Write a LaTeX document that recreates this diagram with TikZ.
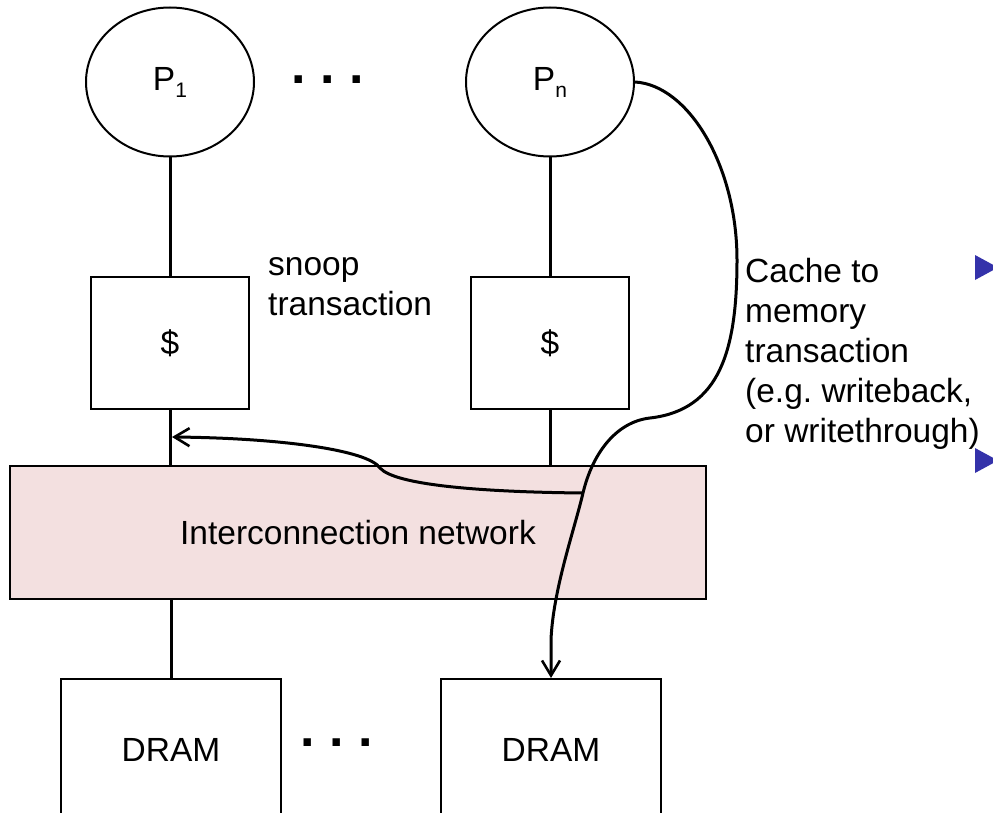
\documentclass[tikz,border=0pt]{standalone}
\usepackage{fontspec}
\setmainfont{Liberation Sans}
\usetikzlibrary{shapes.geometric,arrows.meta}

\definecolor{netpink}{RGB}{243,224,224}
\definecolor{bulletblue}{RGB}{52,50,170}

\newcommand{\labelsize}{\fontsize{33.5}{40}\selectfont}
\newcommand{\subsize}{\fontsize{21}{21}\selectfont}
\newcommand{\dotsize}{\fontsize{52}{52}\selectfont\bfseries}

\tikzset{
  proc/.style={draw, line width=2pt, ellipse, minimum width=168pt, minimum height=149pt, inner sep=0pt},
  cachebox/.style={draw, line width=2pt, minimum width=158pt, minimum height=132pt, inner sep=0pt},
  membox/.style={draw, line width=2pt, minimum width=220pt, minimum height=142pt, inner sep=0pt},
  wire/.style={line width=3pt},
  txn/.style={line width=3pt, -{Straight Barb[length=15pt,width=18pt,line width=2.6pt]}},
  note/.style={align=left, anchor=base west, inner sep=0pt}
}

\begin{document}
\frenchspacing
\begin{tikzpicture}[x=1pt, y=-1pt, font=\labelsize]
  \useasboundingbox (0,0) rectangle (993,813);

  % processors
  \node[proc] (p1) at (170,82) {P\raisebox{-7pt}{\subsize 1}};
  \node[proc] (pn) at (550,82) {P\raisebox{-7pt}{\subsize n}};
  \node (topdots) at (328,80) {\dotsize . . .};

  % caches
  \node[cachebox] (c1) at (170,343) {\$};
  \node[cachebox] (cn) at (550,343) {\$};

  % network
  \node[draw, line width=2pt, fill=netpink, minimum width=696pt, minimum height=133pt, inner sep=0pt] (net) at (358,532.5) {Interconnection network};

  % memories
  \node[membox] (m1) at (171,750) {DRAM};
  \node[membox] (mn) at (551,750) {DRAM};
  \node (memdots) at (337,743) {\dotsize . . .};

  % labels
  \node[note] (snoop) at (268,315) {snoop\\transaction};
  \node[note] (c2m) at (745,442) {Cache to\\memory\\transaction\\(e.g. writeback,\\or writethrough)};

  % plain wires
  \draw[wire] (p1) -- (c1);
  \draw[wire] (pn) -- (cn);
  \draw[wire] (c1) -- (c1 |- net.north);
  \draw[wire] (cn) -- (cn |- net.north);
  \draw[wire] (m1 |- net.south) -- (m1);

  % cache to memory
  \coordinate (tap) at (583,493);
  \draw[txn] (pn.east) .. controls (688,85) and (737,165) .. (737,260)
    .. controls (737,350) and (720,410) .. (650,418)
    .. controls (615,422) and (592,455) .. (tap)
    .. controls (574,531) and (553,590) .. (551,640) -- (mn.north);

  % snoop
  \coordinate (snoopin) at (172,437);
  \draw[txn] (tap) .. controls (480,492) and (395,485) .. (380,468)
    .. controls (368,450) and (280,438) .. (snoopin);

  % bullets
  \fill[bulletblue] (975,255) -- (975,280) -- (998,267.5) -- cycle;
  \fill[bulletblue] (975,448) -- (975,473) -- (998,460.5) -- cycle;
\end{tikzpicture}
\end{document}
